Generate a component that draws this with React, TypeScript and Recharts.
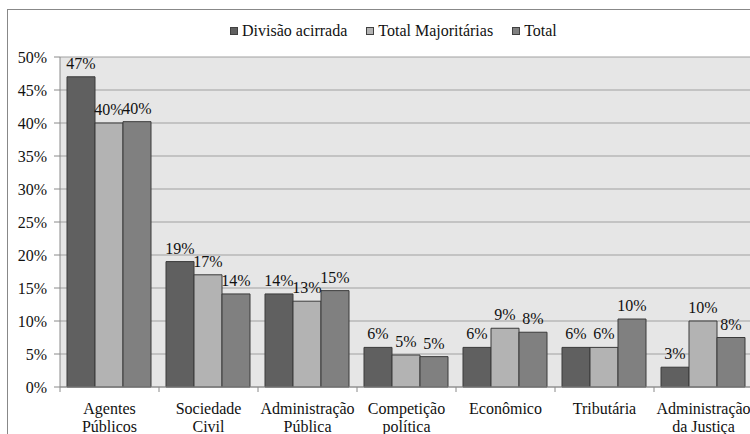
import React from "react";
import { BarChart, Bar, XAxis, YAxis, CartesianGrid, LabelList } from "recharts";

const categories = [
  "Agentes\nPúblicos",
  "Sociedade\nCivil",
  "Administração\nPública",
  "Competição\npolítica",
  "Econômico",
  "Tributária",
  "Administração\nda Justiça",
];
const divisaoAcirrada = [47, 19, 14.1, 6, 6, 6, 3];
const totalMajoritarias = [40, 17, 13, 4.85, 8.9, 6, 10];
const total = [40.2, 14.1, 14.6, 4.6, 8.3, 10.3, 7.5];
const yTicks = [0, 5, 10, 15, 20, 25, 30, 35, 40, 45, 50];
const seriesNames = ["Divisão acirrada", "Total Majoritárias", "Total"];
const seriesColors = ["#606060", "#b3b3b3", "#808080"];

const data = categories.map((c, i) => ({
  name: c,
  d: divisaoAcirrada[i],
  m: totalMajoritarias[i],
  t: total[i],
}));

const FONT = "Liberation Serif";
const FS = 16;
const CHART_W = 758;
const CHART_H = 440;
const MARGIN = { top: 47, right: 13, left: 0, bottom: 13 };
const Y_W = 52;
const PLOT_W = CHART_W - MARGIN.left - MARGIN.right - Y_W;
const BAND = PLOT_W / categories.length;

const XTick = (props: any) => {
  const { x, y, payload } = props;
  const lines = String(payload.value).split("\n");
  return (
    <g>
      <line x1={x - BAND / 2} x2={x - BAND / 2} y1={y} y2={y + 5} stroke="#8a8a8a" />
      {lines.map((l, i) => (
        <text
          key={i}
          x={x}
          y={y + 27 + i * 17.5}
          textAnchor="middle"
          fontFamily={FONT}
          fontSize={FS}
          fill="#111"
        >
          {l}
        </text>
      ))}
    </g>
  );
};

const LegendBox = () => (
  <div
    style={{
      position: "absolute",
      left: 222,
      top: 12,
      display: "flex",
      fontFamily: FONT,
      fontSize: FS,
      color: "#111",
      lineHeight: "18px",
    }}
  >
    {seriesNames.map((n, i) => (
      <div key={n} style={{ display: "flex", alignItems: "center", marginRight: 19 }}>
        <span
          style={{
            display: "inline-block",
            width: 6,
            height: 6,
            background: seriesColors[i],
            border: "1px solid #404040",
            marginRight: 4,
          }}
        />
        <span>{n}</span>
      </div>
    ))}
  </div>
);

const fmt = (v: any) => `${Math.round(Number(v))}%`;
const labelStyle = { fontFamily: FONT, fontSize: FS, fill: "#111" };

export default function App() {
  return (
    <div style={{ position: "fixed", left: 0, top: 0, width: 750, height: 434, overflow: "hidden", background: "#fff" }}>
      <div
        style={{
          position: "absolute",
          left: 7,
          top: 9,
          width: CHART_W,
          height: CHART_H,
          border: "1px solid #888",
          background: "#fff",
        }}
      >
        <BarChart
          width={CHART_W}
          height={CHART_H}
          data={data}
          margin={MARGIN}
          barCategoryGap={7}
          barGap={0}
        >
          <CartesianGrid vertical={false} stroke="#a0a0a0" fill="#e6e6e6" fillOpacity={1} />
          <XAxis
            dataKey="name"
            interval={0}
            tickSize={0}
            tickMargin={0}
            height={CHART_H - MARGIN.top - MARGIN.bottom - 330}
            axisLine={{ stroke: "#8a8a8a" }}
            tick={<XTick />}
          />
          <YAxis
            width={Y_W}
            domain={[0, 50]}
            ticks={yTicks}
            interval={0}
            tickFormatter={(v) => `${v}%`}
            tickSize={6}
            tickMargin={7}
            axisLine={{ stroke: "#8a8a8a" }}
            tickLine={{ stroke: "#8a8a8a" }}
            tick={{ fontFamily: FONT, fontSize: FS, fill: "#111" }}
          />
          <Bar dataKey="d" name={seriesNames[0]} fill={seriesColors[0]} stroke="#3a3a3a" isAnimationActive={false}>
            <LabelList dataKey="d" position="top" formatter={fmt} style={labelStyle} offset={8} />
          </Bar>
          <Bar dataKey="m" name={seriesNames[1]} fill={seriesColors[1]} stroke="#3a3a3a" isAnimationActive={false}>
            <LabelList dataKey="m" position="top" formatter={fmt} style={labelStyle} offset={8} />
          </Bar>
          <Bar dataKey="t" name={seriesNames[2]} fill={seriesColors[2]} stroke="#3a3a3a" isAnimationActive={false}>
            <LabelList dataKey="t" position="top" formatter={fmt} style={labelStyle} offset={8} />
          </Bar>
        </BarChart>
        <LegendBox />
      </div>
    </div>
  );
}
